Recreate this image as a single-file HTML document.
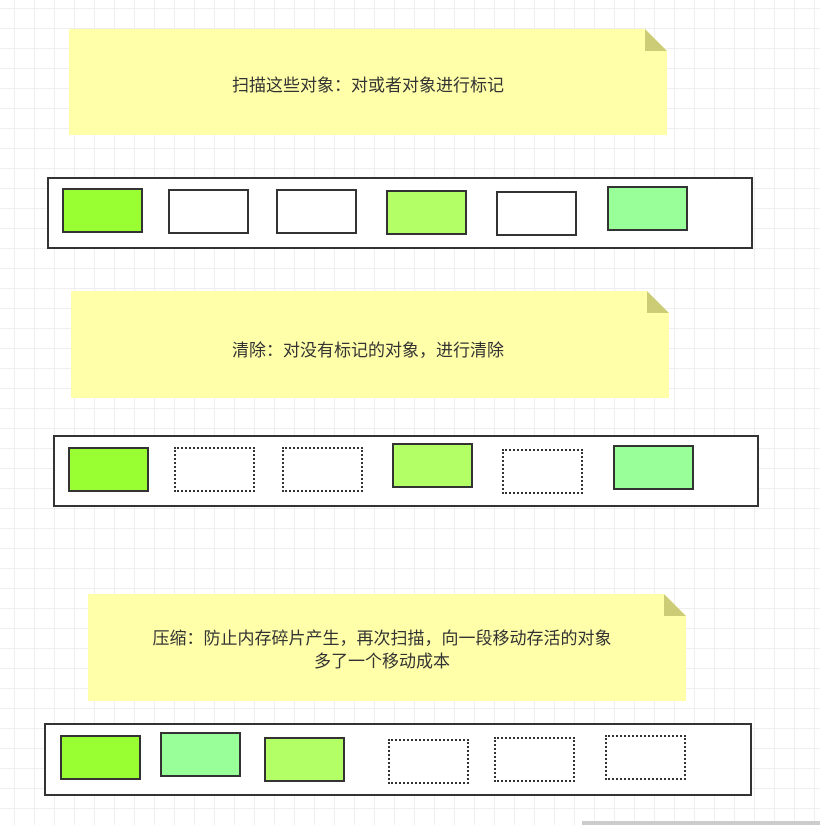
<!DOCTYPE html>
<html><head><meta charset="utf-8"><style>
html,body{margin:0;padding:0}
body{width:820px;height:825px;position:relative;overflow:hidden;background-color:#fff;
background-image:linear-gradient(to right,#efefef 1px,transparent 1px),linear-gradient(to bottom,#efefef 1px,transparent 1px);
background-size:20px 20px;background-position:14px 8px;font-family:"Liberation Sans","Noto Sans CJK SC",sans-serif}
.note{position:absolute;background:#ffffaa;clip-path:polygon(0 0,calc(100% - 22px) 0,100% 22px,100% 100%,0 100%);font-size:17px;color:#333;text-align:center}
.fold{position:absolute;width:22px;height:22px;background:#cccc77;clip-path:polygon(0 0,100% 100%,0 100%)}
.bar{position:absolute;border:2px solid #333;background:#fff;box-sizing:border-box}
.b{position:absolute;box-sizing:border-box;border:2.5px solid #333;width:81px;height:45px}
.d{border:2.5px dotted #333;background:#fff}
</style></head><body>
<div class="note" style="left:69px;top:29px;width:598px;height:106px"><div style="position:absolute;left:163px;top:42px;white-space:nowrap">扫描这些对象：对或者对象进行标记</div></div>
<div class="fold" style="left:645px;top:29px"></div>
<div class="bar" style="left:47px;top:177px;width:706px;height:72px"></div>
<div class="b" style="left:62px;top:188px;background:#99ff33"></div>
<div class="b" style="left:168px;top:189px;background:#fff"></div>
<div class="b" style="left:276px;top:189px;background:#fff"></div>
<div class="b" style="left:386px;top:190px;background:#b3ff66"></div>
<div class="b" style="left:496px;top:191px;background:#fff"></div>
<div class="b" style="left:607px;top:186px;background:#99ff99"></div>

<div class="note" style="left:71px;top:291px;width:598px;height:107px"><div style="position:absolute;left:161px;top:45px;white-space:nowrap">清除：对没有标记的对象，进行清除</div></div>
<div class="fold" style="left:647px;top:291px"></div>
<div class="bar" style="left:53px;top:435px;width:706px;height:72px"></div>
<div class="b" style="left:68px;top:447px;background:#99ff33"></div>
<div class="b d" style="left:174px;top:447px"></div>
<div class="b d" style="left:282px;top:447px"></div>
<div class="b" style="left:392px;top:443px;background:#b3ff66"></div>
<div class="b d" style="left:502px;top:449px"></div>
<div class="b" style="left:613px;top:445px;background:#99ff99"></div>

<div class="note" style="left:88px;top:594px;width:598px;height:107px"><div style="position:absolute;left:0;right:10px;top:33px;line-height:23px;white-space:nowrap">压缩：防止内存碎片产生，再次扫描，向一段移动存活的对象<br>多了一个移动成本</div></div>
<div class="fold" style="left:664px;top:594px"></div>
<div class="bar" style="left:44px;top:723px;width:708px;height:73px"></div>
<div class="b" style="left:60px;top:735px;background:#99ff33"></div>
<div class="b" style="left:160px;top:732px;background:#99ff99"></div>
<div class="b" style="left:264px;top:737px;background:#b3ff66"></div>
<div class="b d" style="left:388px;top:739px"></div>
<div class="b d" style="left:494px;top:737px"></div>
<div class="b d" style="left:605px;top:735px"></div>
<div style="position:absolute;left:582px;top:821px;width:238px;height:4px;background:#ccc"></div>
</body></html>
